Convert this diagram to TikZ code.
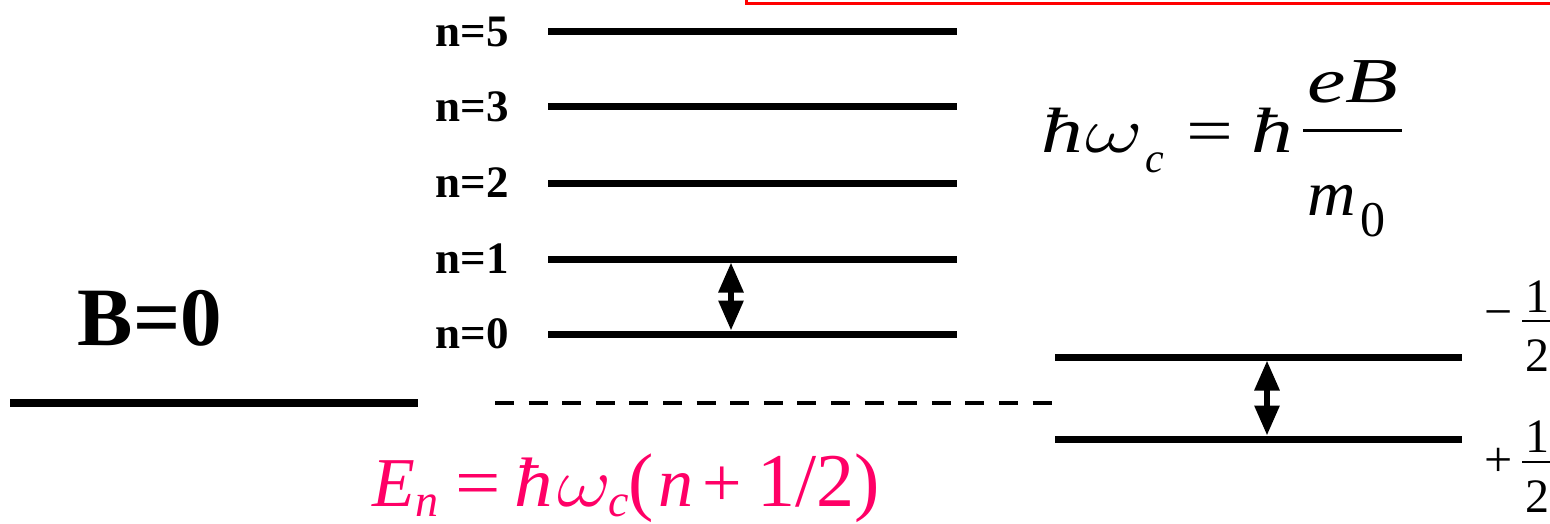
\RequirePackage{fix-cm}
\documentclass[tikz,border=0pt]{standalone}
\usepackage{fontspec}
\setmainfont{Liberation Serif}
\usetikzlibrary{arrows.meta}
\definecolor{formulapink}{RGB}{255,0,102}
\begin{document}
\begin{tikzpicture}[x=1pt,y=-1pt,
  level/.style={line width=7pt},
  nlabel/.style={font=\fontsize{45}{45}\selectfont\bfseries, anchor=east, inner sep=0pt},
  dblarrow/.style={line width=6pt, {Triangle[length=30pt,width=24pt]}-{Triangle[length=30pt,width=24pt]}},
  fracnum/.style={font=\fontsize{48}{48}\selectfont, anchor=base, inner sep=0pt},
  top/.style={font=\fontsize{64}{64}\selectfont, inner sep=0pt, anchor=base west},
  topsub/.style={font=\fontsize{42}{42}\selectfont, inner sep=0pt, anchor=base west},
  pk/.style={font=\fontsize{70}{70}\selectfont, text=formulapink, inner sep=0pt, anchor=base west},
  pksub/.style={font=\fontsize{46}{46}\selectfont, text=formulapink, inner sep=0pt, anchor=base west},
]
\useasboundingbox (0,0) rectangle (1550,524);

% red frame (partially visible)
\draw[red, line width=2.5pt] (746.5,-5) -- (746.5,3.5) -- (1560,3.5);

% B=0 level
\coordinate (b0l) at (10,403);
\coordinate (b0r) at (418,403);
\draw[line width=8pt] (b0l) -- (b0r);
\node[font=\fontsize{83}{83}\selectfont\bfseries, inner sep=0pt] (blabel) at (150,318) {B=0};

% dashed reference line
\coordinate (dl) at (495,403);
\coordinate (dr) at (1052,403);
\draw[line width=4pt, dash pattern=on 19pt off 14.6pt] (dl) -- (dr);

% Landau levels
\foreach \name/\yy/\lab in {l5/32/5, l3/107/3, l2/183/2, l1/259/1, l0/334/0}{
  \coordinate (\name L) at (548,\yy);
  \coordinate (\name R) at (957,\yy);
  \draw[level] (\name L) -- (\name R);
  \node[nlabel] (\name lab) at (509,\yy) {n=\lab};
}

% spin-split levels
\coordinate (sUL) at (1055,357);
\coordinate (sUR) at (1462,357);
\coordinate (sDL) at (1055,439);
\coordinate (sDR) at (1462,439);
\draw[level] (sUL) -- (sUR);
\draw[level] (sDL) -- (sDR);

% double arrows
\coordinate (a1t) at (731,262.5);
\coordinate (a1b) at (731,330.5);
\draw[dblarrow] (a1t) -- (a1b);
\coordinate (a2t) at (1267,360.5);
\coordinate (a2b) at (1267,435.5);
\draw[dblarrow] (a2t) -- (a2b);

% hbar omega_c = hbar eB/m0
\node[top] (h1) at (1041,153) {\scalebox{1.3}[1]{\textit{ħ}}};
\node[top] (w1) at (1085,153) {\scalebox{1.4}[1]{$\omega$}};
\node[topsub] (c1) at (1145,172) {\textit{c}};
\node[top] (eq1) at (1186,153) {\scalebox{1.3}[1]{=}};
\node[top] (h2) at (1251,153) {\scalebox{1.3}[1]{\textit{ħ}}};
\node[top, anchor=base] (eb) at (1353,103) {\scalebox{1.35}[1]{\textit{eB}}};
\draw[line width=3pt] (1303,131) -- (1402,131);
\node[top] (m) at (1307,215) {\scalebox{1.05}[1]{\textit{m}}};
\node[topsub, font=\fontsize{50}{50}\selectfont] (zero) at (1360,236) {0};

% -1/2 and +1/2
\node[font=\fontsize{50}{50}\selectfont, inner sep=0pt] (minus) at (1499,320) {−};
\node[fracnum] (mnum) at (1537,312) {1};
\node[fracnum] (mden) at (1537,371) {2};
\draw[line width=2.5pt] (1522,321) -- (1553,321);
\node[font=\fontsize{50}{50}\selectfont, inner sep=0pt] (plus) at (1499,462) {+};
\node[fracnum] (pnum) at (1537,452) {1};
\node[fracnum] (pden) at (1537,512) {2};
\draw[line width=2.5pt] (1522,462) -- (1553,462);

% E_n formula
\node[pk] (E) at (372,506) {\textit{E}};
\node[pksub] (Esub) at (415,516) {\textit{n}};
\node[pk] (eq2) at (455,506) {\scalebox{1.15}[1]{=}};
\node[pk] (h3) at (514,506) {\scalebox{1.1}[1]{\textit{ħ}}};
\node[pk] (w2) at (557,506) {\scalebox{1.2}[1]{$\omega$}};
\node[pksub] (csub) at (608,516) {\textit{c}};
\node[pk, font=\fontsize{76}{76}\selectfont] (lp) at (628,506) {(};
\node[pk] (nn) at (658,506) {\textit{n}};
\node[pk] (pl) at (702,506) {+};
\node[pk, font=\fontsize{76}{76}\selectfont] (half) at (757,506) {1/2)};
\end{tikzpicture}
\end{document}
